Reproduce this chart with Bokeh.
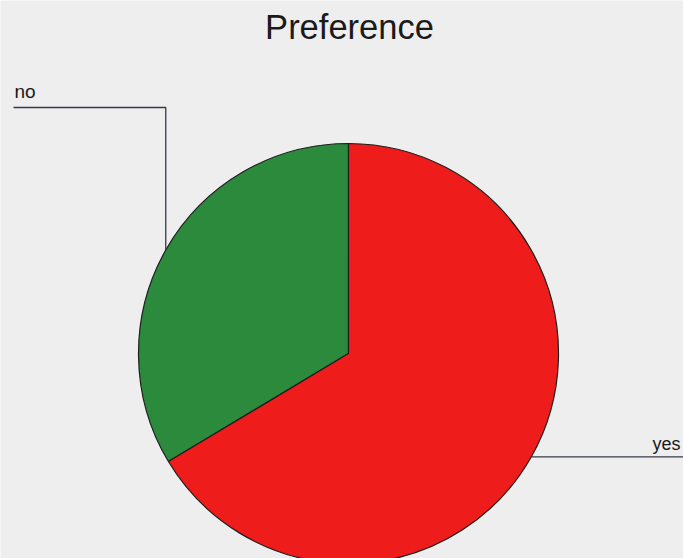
import math
from bokeh.plotting import figure
from bokeh.models import Range1d
from bokeh.core.properties import value
from bokeh.embed import file_html
from bokeh.resources import INLINE

# data
categories = ["no", "yes"]
shares = [33.6, 66.4]
colors = ["#2b8a3c", "#ef1c1c"]
title_text = "Preference"

W, H = 683, 558
p = figure(width=W, height=H, output_backend="svg", toolbar_location=None,
           x_range=Range1d(0, W), y_range=Range1d(0, H), min_border=0)
p.axis.visible = False
p.grid.visible = False
p.outline_line_color = None
p.background_fill_color = "#eeeeee"
p.border_fill_color = "#eeeeee"

cx, cy, r = 348, H - 353, 210
total = sum(shares)
start = math.pi / 2
starts, ends, mids = [], [], []
for s in shares:
    a = 2 * math.pi * s / total
    starts.append(start)
    ends.append(start + a)
    mids.append(start + a / 2)
    start += a

p.wedge(x=[cx] * len(shares), y=[cy] * len(shares), radius=r,
        start_angle=starts, end_angle=ends, direction="anticlock",
        fill_color=colors, line_color="#1e1e1e", line_width=1.2)

# leader lines
ax0 = cx + r * math.cos(mids[0])
ay0 = cy + r * math.sin(mids[0])
p.line(x=[ax0, ax0, 13], y=[ay0, H - 107, H - 107], line_color="#333a44", line_width=1.3)
ax1 = cx + r * math.cos(mids[1])
ay1 = cy + r * math.sin(mids[1])
p.line(x=[ax1, W], y=[ay1, ay1], line_color="#333a44", line_width=1.3)

font = value("Liberation Sans")
p.text(x=[14], y=[H - 91], text=[categories[0]], text_font=font,
       text_font_size="19px", text_color="#1a1a1a", text_baseline="alphabetic")
p.text(x=[652], y=[H - 443], text=[categories[1]], text_font=font,
       text_font_size="18px", text_color="#1a1a1a", text_baseline="alphabetic")
p.text(x=[349], y=[H - 26], text=[title_text], text_font=font,
       text_font_size="34.5px", text_color="#1a1a1a", text_align="center",
       text_baseline="alphabetic")

open("out.html", "w").write(file_html(p, INLINE))
